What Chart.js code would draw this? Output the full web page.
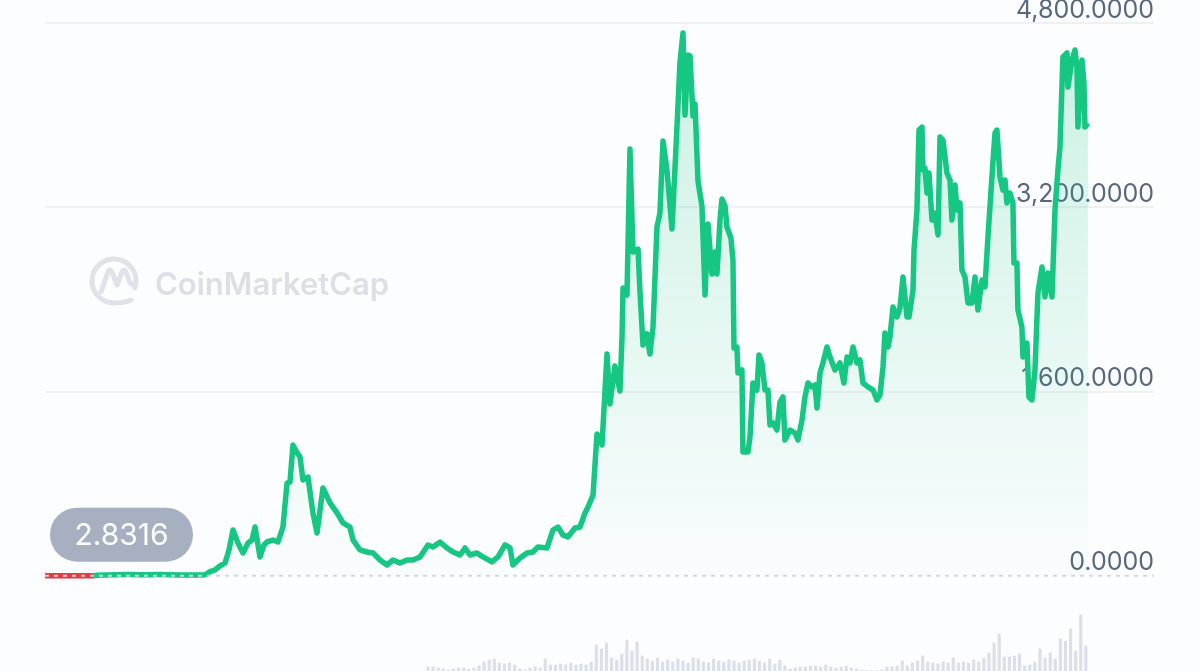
<!DOCTYPE html>
<html>
<head>
<meta charset="utf-8">
<script src="https://cdn.jsdelivr.net/npm/chart.js@4.4.1/dist/chart.umd.min.js"></script>
<style>
  html, body { margin: 0; padding: 0; background: #fcfdfe; }
  #wrap { width: 1200px; height: 671px; }
</style>
</head>
<body>
<div id="wrap"><canvas id="ethChart" width="1200" height="671"></canvas></div>
<script>
// opening price, shown in the grey badge and as the dashed base line
var startPrice = 2.8316;

// dates as decimal years
var years = [
  2015.600, 2015.669, 2015.767, 2015.894, 2016.022, 2016.080, 2016.110, 2016.188, 2016.286, 2016.384,
  2016.453, 2016.531, 2016.629, 2016.727, 2016.825, 2016.924, 2017.022, 2017.120, 2017.169, 2017.218,
  2017.267, 2017.316, 2017.365, 2017.404, 2017.443, 2017.492, 2017.541, 2017.590, 2017.629, 2017.659,
  2017.708, 2017.747, 2017.776, 2017.835, 2017.884, 2017.933, 2017.973, 2018.002, 2018.031, 2018.071,
  2018.100, 2018.129, 2018.178, 2018.227, 2018.267, 2018.325, 2018.394, 2018.463, 2018.522, 2018.590,
  2018.620, 2018.688, 2018.757, 2018.816, 2018.884, 2018.953, 2019.012, 2019.080, 2019.149, 2019.208,
  2019.276, 2019.355, 2019.404, 2019.473, 2019.541, 2019.600, 2019.669, 2019.718, 2019.767, 2019.835,
  2019.894, 2019.982, 2020.041, 2020.110, 2020.159, 2020.188, 2020.257, 2020.325, 2020.384, 2020.433,
  2020.522, 2020.580, 2020.629, 2020.678, 2020.727, 2020.796, 2020.845, 2020.894, 2020.924, 2020.973,
  2021.012, 2021.061, 2021.110, 2021.139, 2021.188, 2021.237, 2021.257, 2021.267, 2021.306, 2021.335,
  2021.365, 2021.414, 2021.433, 2021.463, 2021.502, 2021.531, 2021.561, 2021.600, 2021.629, 2021.659,
  2021.698, 2021.747, 2021.796, 2021.825, 2021.855, 2021.875, 2021.904, 2021.924, 2021.953, 2021.973,
  2022.002, 2022.041, 2022.071, 2022.100, 2022.139, 2022.169, 2022.188, 2022.218, 2022.237, 2022.267,
  2022.286, 2022.325, 2022.345, 2022.355, 2022.384, 2022.394, 2022.433, 2022.443, 2022.492, 2022.512,
  2022.541, 2022.580, 2022.600, 2022.629, 2022.659, 2022.688, 2022.708, 2022.737, 2022.776, 2022.806,
  2022.835, 2022.855, 2022.904, 2022.953, 2022.982, 2023.022, 2023.051, 2023.080, 2023.120, 2023.149,
  2023.169, 2023.198, 2023.227, 2023.267, 2023.296, 2023.345, 2023.394, 2023.433, 2023.463, 2023.492,
  2023.522, 2023.561, 2023.590, 2023.620, 2023.669, 2023.718, 2023.757, 2023.786, 2023.816, 2023.835,
  2023.865, 2023.884, 2023.914, 2023.953, 2023.982, 2024.012, 2024.051, 2024.071, 2024.110, 2024.120,
  2024.149, 2024.169, 2024.198, 2024.208, 2024.227, 2024.247, 2024.267, 2024.296, 2024.325, 2024.355,
  2024.375, 2024.404, 2024.443, 2024.473, 2024.492, 2024.522, 2024.541, 2024.571, 2024.590, 2024.620,
  2024.649, 2024.688, 2024.718, 2024.747, 2024.786, 2024.816, 2024.845, 2024.884, 2024.914, 2024.933,
  2024.963, 2024.992, 2025.012, 2025.031, 2025.061, 2025.090, 2025.100, 2025.129, 2025.139, 2025.178,
  2025.188, 2025.227, 2025.247, 2025.276, 2025.306, 2025.335, 2025.375, 2025.404, 2025.433, 2025.473,
  2025.502, 2025.531, 2025.551, 2025.580, 2025.620, 2025.629, 2025.669, 2025.698, 2025.718, 2025.727,
  2025.767, 2025.786, 2025.796, 2025.825
];

// price in USD
var prices = [
  2.83, 1.3, 0.95, 1.0, 1.1, 2.5, 5.5, 8, 10.5, 13,
  12, 10, 11.5, 12, 11, 9, 8, 8.5, 10.5, 37,
  52, 87, 113, 226, 399, 286, 200, 286, 312, 425,
  165, 269, 295, 312, 295, 425, 807, 816, 1137, 1068,
  1033, 833, 859, 547, 373, 764, 634, 547, 460, 425,
  312, 226, 208, 200, 139, 95, 139, 113, 139, 139,
  165, 269, 252, 295, 243, 208, 182, 243, 182, 200,
  165, 122, 165, 269, 243, 95, 156, 200, 208, 252,
  243, 399, 425, 356, 339, 417, 425, 547, 599, 703,
  1233, 1137, 1927, 1493, 1823, 1606, 2066, 2500, 2439, 3706,
  2812, 2838, 2474, 2005, 2101, 1927, 2161, 3029, 3151, 3776,
  3524, 3012, 3897, 4453, 4713, 4001, 4522, 4514, 3993, 4097,
  3429, 3212, 2439, 3055, 2621, 2812, 2621, 3090, 3272, 3212,
  3029, 2934, 2743, 1979, 1988, 1762, 1788, 1076, 1076, 1207,
  1675, 1614, 1918, 1849, 1614, 1614, 1311, 1328, 1267, 1510,
  1554, 1180, 1267, 1241, 1180, 1354, 1554, 1675, 1641, 1658,
  1458, 1762, 1849, 1988, 1901, 1788, 1849, 1675, 1901, 1849,
  1988, 1849, 1875, 1675, 1641, 1614, 1528, 1571, 1814, 2109,
  1988, 2075, 2335, 2248, 2326, 2595, 2248, 2248, 2482, 2830,
  3177, 3871, 3897, 3524, 3541, 3324, 3498, 3090, 3151, 2960,
  3811, 3784, 3498, 3437, 3090, 3394, 3177, 3238, 2656, 2595,
  2370, 2370, 2595, 2309, 2569, 2509, 2943, 3463, 3845, 3871,
  3463, 3350, 3437, 3238, 3324, 3238, 2717, 2717, 2309, 2161,
  1901, 2022, 1554, 1528, 1788, 2456, 2682, 2422, 2630, 2422,
  3177, 3524, 3724, 4505, 4540, 4245, 4479, 4566, 4418, 3897,
  4479, 4279, 3897, 3932
];

// trading volume (relative units), one bar every volStep years from volStart
var volStart = 2019.355;
var volStep = 0.05;
var volumes = [
  8, 8, 6, 4, 2, 4, 6, 6, 4, 6,
  10, 18, 22, 24, 16, 14, 16, 12, 4, 2,
  6, 8, 6, 24, 12, 12, 14, 12, 16, 12,
  14, 12, 18, 52, 44, 56, 26, 22, 34, 62,
  40, 58, 30, 24, 20, 26, 18, 22, 18, 24,
  20, 16, 26, 24, 18, 16, 24, 20, 18, 22,
  20, 16, 20, 22, 24, 20, 16, 24, 14, 22,
  10, 4, 6, 8, 8, 10, 10, 8, 12, 8,
  6, 8, 10, 6, 4, 2, 1, 1, 1, 2,
  8, 8, 10, 20, 10, 16, 20, 30, 18, 16,
  14, 18, 16, 26, 16, 18, 16, 22, 18, 26,
  36, 56, 74, 28, 28, 30, 34, 10, 12, 18,
  44, 26, 36, 24, 64, 60, 84, 40, 112, 50
];

var yTicks = [0, 1600, 3200, 4800];

var green = '#16c784';
var red = '#ea3943';

var pricePoints = years.map(function (yr, i) { return { x: yr, y: prices[i] }; });
var volumePoints = volumes.map(function (v, i) { return { x: volStart + i * volStep, y: v }; });

// watermark behind the line
var watermark = {
  id: 'watermark',
  beforeDatasetsDraw: function (chart) {
    var ctx = chart.ctx;
    ctx.save();
    ctx.strokeStyle = '#dfe2e8';
    ctx.lineWidth = 5;
    ctx.lineCap = 'round';
    ctx.lineJoin = 'round';
    ctx.beginPath();
    ctx.arc(114, 281, 22, 0.5 * Math.PI, 2.1 * Math.PI);
    ctx.stroke();
    ctx.beginPath();
    ctx.moveTo(114, 303);
    ctx.quadraticCurveTo(124, 303, 131, 300);
    ctx.stroke();
    ctx.beginPath();
    ctx.moveTo(101, 292);
    ctx.lineTo(108, 272);
    ctx.quadraticCurveTo(110, 268, 112, 272);
    ctx.lineTo(117, 285);
    ctx.lineTo(122, 272);
    ctx.quadraticCurveTo(124, 268, 126, 272);
    ctx.lineTo(130, 283);
    ctx.quadraticCurveTo(133, 286, 136, 281);
    ctx.stroke();
    ctx.fillStyle = '#dcdfe5';
    ctx.font = '600 31px Inter';
    ctx.textBaseline = 'alphabetic';
    ctx.fillText('CoinMarketCap', 155, 295);
    ctx.restore();
  }
};

// dashed opening-price line and the badge
var baseBadge = {
  id: 'baseBadge',
  afterDatasetsDraw: function (chart) {
    var ctx = chart.ctx;
    var area = chart.chartArea;
    var basePx = chart.scales.y.getPixelForValue(startPrice);
    ctx.save();
    ctx.strokeStyle = 'rgba(207,214,228,0.95)';
    ctx.lineWidth = 2;
    ctx.setLineDash([4, 5]);
    ctx.beginPath();
    ctx.moveTo(area.left, basePx);
    ctx.lineTo(area.right, basePx);
    ctx.stroke();
    ctx.setLineDash([]);

    var bx = area.left + 5, bw = 143, bh = 54, by = basePx - 68;
    ctx.fillStyle = '#a7b0c1';
    ctx.beginPath();
    ctx.roundRect(bx, by, bw, bh, bh / 2);
    ctx.fill();
    ctx.fillStyle = '#ffffff';
    ctx.font = '30px Inter';
    ctx.textAlign = 'center';
    ctx.textBaseline = 'middle';
    ctx.fillText(startPrice.toFixed(4), bx + bw / 2, by + bh / 2 + 1);
    ctx.restore();
  }
};

new Chart(document.getElementById('ethChart'), {
  type: 'line',
  data: {
    datasets: [{
      type: 'line',
      data: pricePoints,
      order: 1,
      borderColor: green,
      borderWidth: 5.5,
      borderJoinStyle: 'round',
      pointRadius: 0,
      tension: 0,
      fill: { value: startPrice },
      backgroundColor: function (context) {
        var chart = context.chart;
        var area = chart.chartArea;
        if (!area) return 'rgba(22,199,132,0.1)';
        var base = chart.scales.y.getPixelForValue(startPrice);
        var g = chart.ctx.createLinearGradient(0, area.top, 0, base);
        g.addColorStop(0, 'rgba(22,199,132,0.22)');
        g.addColorStop(1, 'rgba(22,199,132,0.01)');
        return g;
      },
      segment: {
        borderColor: function (s) {
          return (s.p0.parsed.y <= startPrice && s.p1.parsed.y < startPrice) ? red : green;
        }
      }
    }, {
      type: 'bar',
      data: volumePoints,
      order: 2,
      yAxisID: 'yv',
      backgroundColor: '#dadfe9',
      barThickness: 2.5
    }]
  },
  options: {
    responsive: false,
    animation: false,
    layout: { padding: { left: 45, right: 46, top: 0, bottom: 0 } },
    plugins: { legend: { display: false }, tooltip: { enabled: false } },
    scales: {
      x: {
        type: 'linear',
        display: false,
        offset: false,
        min: 2015.6,
        max: 2026.473
      },
      y: {
        position: 'right',
        min: -825,
        max: 5000,
        afterBuildTicks: function (axis) {
          axis.ticks = yTicks.map(function (v) { return { value: v }; });
        },
        afterFit: function (axis) {
          axis.paddingTop = 0;
          axis.paddingBottom = 0;
        },
        border: { display: false },
        grid: {
          drawTicks: false,
          lineWidth: 2,
          color: function (c) { return c.tick && c.tick.value === 0 ? 'rgba(0,0,0,0)' : '#eef0f4'; }
        },
        ticks: {
          mirror: true,
          padding: 0,
          labelOffset: -13,
          color: '#58667e',
          font: { family: 'Inter', size: 25 },
          callback: function (v) {
            return Number(v).toLocaleString('en-US', { minimumFractionDigits: 4, maximumFractionDigits: 4 });
          }
        }
      },
      yv: {
        display: false,
        min: 0,
        max: 1342
      }
    }
  },
  plugins: [watermark, baseBadge]
});
</script>
</body>
</html>
